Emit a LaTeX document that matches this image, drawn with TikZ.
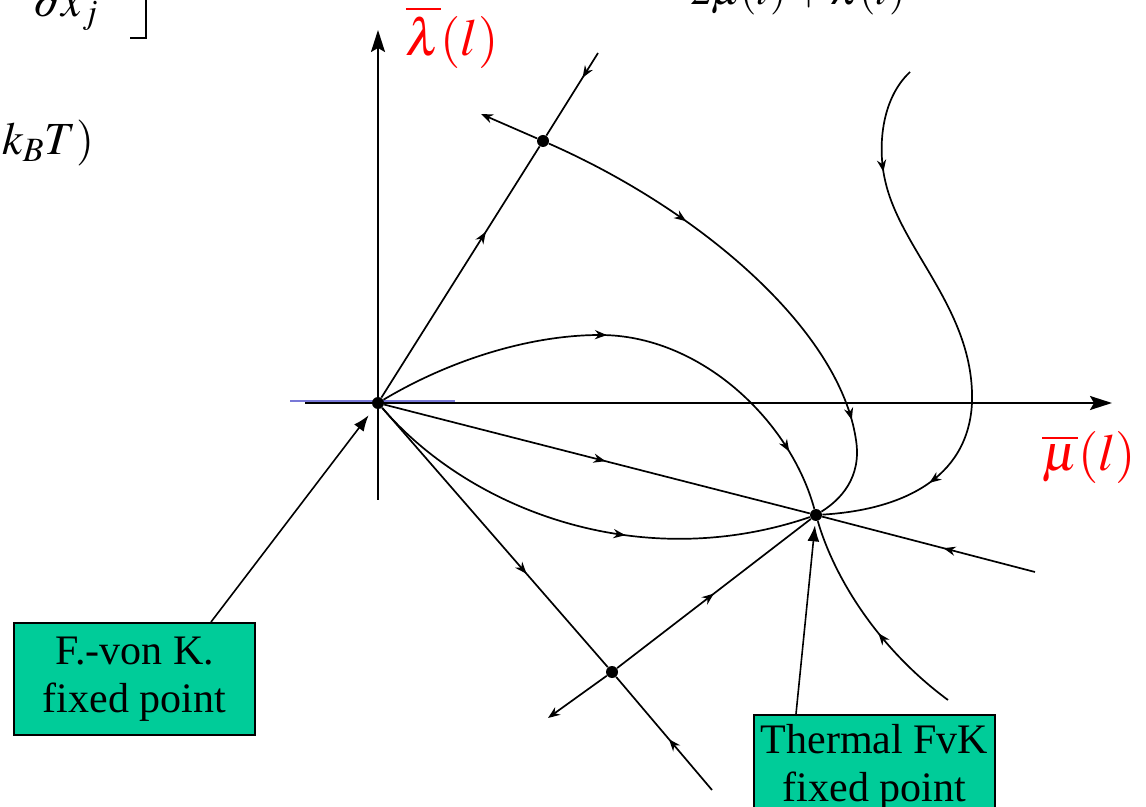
\documentclass[tikz,border=0pt]{standalone}
\usepackage{mathptmx}
\usepackage{fontspec}
\setmainfont{Liberation Serif}
\usetikzlibrary{arrows.meta,decorations.markings}

\definecolor{fvkgreen}{RGB}{0,204,153}
\definecolor{faintblue}{RGB}{120,120,215}

\tikzset{
    flowtip/.tip={Stealth[length=6pt,width=4.6pt]},
    axistip/.tip={Stealth[length=11pt,width=7pt,inset=2pt]},
    flow/.style={line width=0.85pt},
    flowmark/.style={postaction={decorate},
        decoration={markings,mark=at position #1 with {\arrow{flowtip}}}},
    flowmarks/.style 2 args={postaction={decorate},
        decoration={markings,mark=at position #1 with {\arrow{flowtip}},
            mark=at position #2 with {\arrow{flowtip}}}},
    fixpt/.style={circle,fill,inner sep=0pt,minimum size=6pt},
    axis/.style={line width=1pt,-axistip},
    frag/.style={inner sep=0pt,font=\fontsize{23}{27}\selectfont},
    labelbox/.style={draw,line width=1pt,fill=fvkgreen,align=center,
        minimum width=120.5pt,font=\fontsize{21}{24}\selectfont},
    pointer/.style={line width=0.8pt,-{Latex[length=8pt,width=6pt]}},
}

\begin{document}
\begin{tikzpicture}[x=0.5pt,y=-0.5pt]
    \useasboundingbox (0,0) rectangle (1146,807);
    \clip (0,0) rectangle (1146,807);

    % Pieces of the formulas cut off by the frame.
    \node[frag,anchor=base west] (dxj) at (33,17) {$\partial x_j$};
    \draw[line width=1.2pt] (146,0) -- (146,38) -- (130,38);
    \node[frag,anchor=base west] (kbt) at (2,155) {$k_B T)$};
    \node[frag,anchor=base west,font=\fontsize{21}{25}\selectfont] (denom)
        at (690,5) {$2\mu(l)+\lambda(l)$};

    % Axes.
    \coordinate (xstart) at (305,403);
    \coordinate (xend) at (1112,403);
    \coordinate (ystart) at (378,500);
    \coordinate (yend) at (378,30);
    \draw[faintblue,line width=1pt] (290,401.5) -- (455,401.5);
    \draw[axis] (xstart) -- (xend);
    \draw[axis] (ystart) -- (yend);
    \node[text=red,font=\fontsize{26}{30}\selectfont] (lamlabel) at (452,37)
        {$\overline{\lambda}(l)$};
    \node[text=red,font=\fontsize{26}{30}\selectfont] (mulabel) at (1089,458)
        {$\overline{\mu}(l)$};

    % Fixed points.
    \node[fixpt] (O) at (378,403) {};
    \node[fixpt] (A) at (543,141) {};
    \node[fixpt] (B) at (816,515) {};
    \node[fixpt] (C) at (612,672) {};

    % Loose ends of the flow lines.
    \coordinate (Atop) at (598,53);
    \coordinate (Aleft) at (481,114);
    \coordinate (Bright) at (1035,572);
    \coordinate (Cbot) at (712,790);
    \coordinate (Cleft) at (548,718);
    \coordinate (Rtop) at (910,72);
    \coordinate (Rbot) at (948,700);

    % Straight separatrices.
    \draw[flow,flowmark=0.66] (O) -- (A);
    \draw[flow,flowmark=0.3] (Atop) -- (A);
    \draw[flow,-flowtip] (A) -- (Aleft);
    \draw[flow,flowmark=0.52] (O) -- (B);
    \draw[flow,flowmark=0.43] (Bright) -- (B);
    \draw[flow,flowmark=0.64] (O) -- (C);
    \draw[flow,flowmark=0.45] (Cbot) -- (C);
    \draw[flow,flowmark=0.5] (C) -- (B);
    \draw[flow,-flowtip] (C) -- (Cleft);

    % Curved flow lines into the thermal point.
    \draw[flow,flowmarks={0.3}{0.8}] (A) .. controls (700,210) and (840,330)
        .. (856,440) .. controls (862,478) and (840,500) .. (B);
    \draw[flow,flowmarks={0.45}{0.88}] (O) .. controls (450,360) and (530,335)
        .. (600,335) .. controls (700,335) and (790,420) .. (B);
    \draw[flow,flowmark=0.6] (O) .. controls (470,510) and (640,575) .. (B);
    \draw[flow,flowmarks={0.19}{0.8}] (Rtop) .. controls (880,100) and (878,150)
        .. (885,180) .. controls (900,250) and (975,310) .. (972,403)
        .. controls (968,480) and (900,510) .. (B);
    \draw[flow,flowmark=0.43] (Rbot) .. controls (880,650) and (835,580) .. (B);

    % Boxes naming the two fixed points.
    \node[labelbox,minimum height=56pt] (fvk) at (134.5,679)
        {F.-von K.\\fixed point};
    \node[labelbox,anchor=north,inner ysep=4.7pt] (thermal) at (874.5,714)
        {Thermal FvK\\fixed point};
    \draw[pointer,shorten >=4.5pt] ([xshift=-22.5pt]fvk.north east) -- (O);
    \draw[pointer,shorten >=2pt] ([xshift=21.5pt]thermal.north west) -- (B);
\end{tikzpicture}
\end{document}
